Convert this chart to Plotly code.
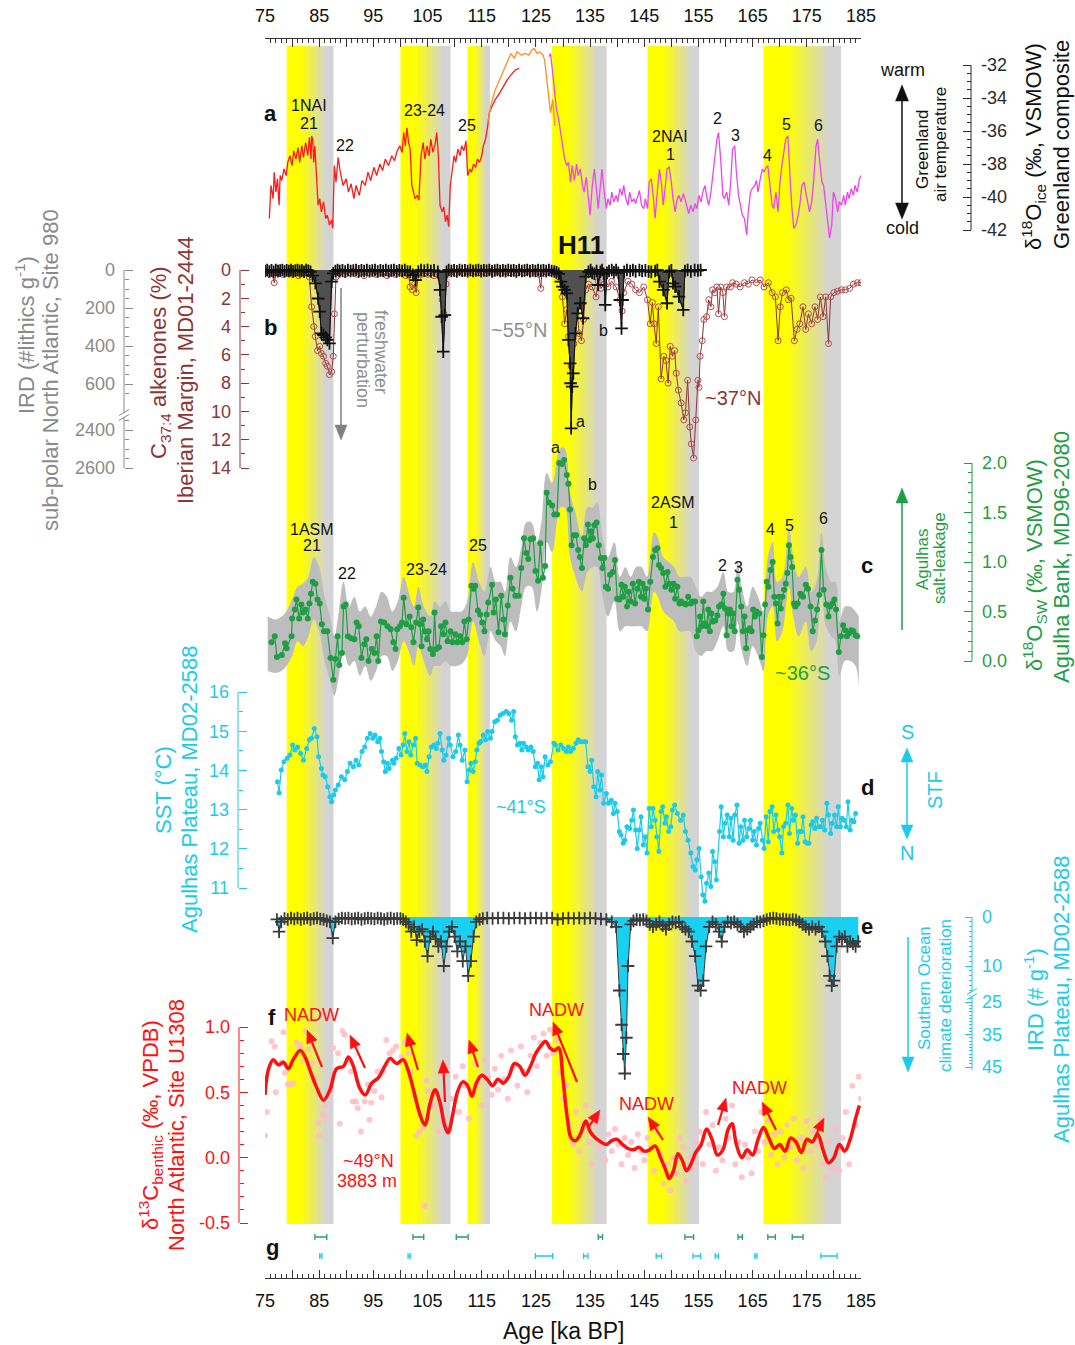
import math
import plotly.graph_objects as go

W, H = 1075, 1345
FONT = "Liberation Sans, Arial, sans-serif"

# ---------------- a: Greenland composite d18O_ice (permil) ----------------
greenland_ngrip = [
    (75.8, -41.3), (76.1, -39.3), (76.5, -40.1), (76.7, -38.5), (77.0, -39.7), (77.3, -38.9),
    (77.6, -40.5), (77.8, -38.7), (78.1, -39.0), (78.5, -38.3), (78.9, -38.7), (79.2, -37.9),
    (79.6, -37.5), (80.0, -38.1), (80.3, -37.2), (80.7, -37.7), (81.1, -37.0), (81.4, -37.9),
    (81.8, -36.9), (82.1, -37.6), (82.5, -36.7), (82.9, -37.5), (83.2, -36.4), (83.5, -37.7),
    (83.6, -36.3), (83.8, -36.5), (84.0, -37.9), (84.2, -36.9), (84.6, -39.3), (84.8, -40.5),
    (85.1, -40.1), (85.4, -40.9), (85.8, -40.3), (86.2, -41.3), (86.5, -41.1), (86.9, -41.7),
    (87.3, -41.4), (87.5, -41.9), (87.8, -38.1), (88.1, -39.1), (88.5, -37.6), (88.9, -38.5),
    (89.4, -39.3), (90.0, -38.9), (90.4, -39.7), (90.9, -39.2), (91.4, -40.1), (91.8, -39.3),
    (92.4, -39.9), (92.9, -39.0), (93.5, -39.3), (94.0, -38.5), (94.5, -39.0), (95.1, -38.2),
    (95.6, -38.7), (96.2, -38.0), (96.7, -38.4), (97.2, -37.7), (97.8, -38.1), (98.4, -37.5),
    (98.9, -37.8), (99.4, -37.2), (99.9, -36.9), (100.3, -37.3), (100.6, -36.1), (100.9, -36.9),
    (101.2, -35.8), (101.5, -36.7), (101.8, -37.1), (102.1, -39.3), (102.4, -39.7), (102.7, -40.1),
    (103.1, -39.9), (103.4, -40.2), (103.8, -37.5), (104.2, -36.7), (104.5, -37.7), (104.9, -36.9),
    (105.3, -37.5), (105.6, -36.5), (106.0, -37.3), (106.4, -36.8), (106.7, -36.1), (107.0, -37.5),
    (107.3, -40.5), (107.7, -40.9), (108.0, -40.6), (108.3, -41.5), (108.6, -41.1), (108.9, -41.8),
    (109.2, -39.3), (109.5, -38.5), (109.9, -37.5), (110.2, -37.9), (110.6, -37.1), (111.0, -37.5),
    (111.3, -36.9), (111.7, -37.2), (112.1, -36.6), (112.4, -38.7), (112.8, -38.3), (113.1, -38.5),
    (113.5, -38.0), (113.9, -38.2), (114.2, -37.7), (114.6, -37.9), (115.0, -37.5), (115.3, -36.9),
    (115.7, -36.5), (116.1, -35.7), (116.4, -34.9), (116.9, -34.5), (117.5, -34.1), (118.3, -33.7),
    (119.0, -33.3), (119.7, -32.9), (120.4, -32.6), (121.2, -32.3), (121.9, -32.2),
]
greenland_neem = [
    (116.1, -35.5), (116.8, -34.3), (117.5, -33.5), (118.3, -32.9), (119.0, -32.4), (119.7, -31.8),
    (120.4, -31.3), (121.0, -31.6), (121.5, -31.2), (122.3, -31.4), (123.0, -31.3), (123.7, -31.4),
    (124.2, -31.1), (124.7, -31.0), (125.2, -31.3), (125.7, -31.2), (126.3, -31.4), (126.6, -31.7),
    (127.0, -32.9), (127.4, -33.7), (127.7, -34.9), (128.1, -34.1), (128.5, -35.7),
]
greenland_synthetic = [
    (127.4, -31.5), (127.7, -31.3), (128.1, -32.5), (128.5, -33.9), (128.8, -34.7), (129.2, -35.3),
    (129.6, -36.1), (129.9, -36.9), (130.3, -37.7), (130.7, -38.1), (131.0, -37.9), (131.4, -39.1),
    (131.7, -38.1), (132.1, -39.0), (132.5, -38.0), (132.8, -38.7), (133.2, -38.3), (133.6, -39.3),
    (133.9, -39.7), (134.3, -38.8), (134.7, -40.1), (135.0, -41.1), (135.4, -39.3), (135.8, -38.3),
    (136.1, -39.3), (136.5, -40.7), (136.9, -39.3), (137.2, -38.3), (137.6, -39.7), (138.0, -40.7),
    (138.3, -40.1), (138.7, -40.5), (139.0, -39.7), (139.4, -40.3), (139.8, -39.9), (140.1, -40.3),
    (140.5, -39.5), (140.9, -39.9), (141.2, -39.3), (141.6, -40.1), (142.0, -40.5), (142.3, -39.7),
    (142.7, -40.3), (143.1, -40.1), (143.4, -40.4), (143.8, -39.9), (144.1, -39.6), (144.5, -40.5),
    (144.9, -40.7), (145.2, -40.1), (145.6, -40.7), (145.9, -39.1), (146.3, -38.9), (146.7, -40.1),
    (147.0, -41.3), (147.4, -39.7), (147.8, -38.3), (148.2, -39.3), (148.5, -40.5), (148.9, -39.3),
    (149.2, -38.3), (149.6, -38.2), (150.0, -39.1), (150.3, -40.1), (150.7, -40.9), (151.1, -40.1),
    (151.4, -39.9), (151.8, -40.3), (152.2, -39.8), (152.5, -40.1), (152.9, -40.7), (153.2, -41.0),
    (153.6, -40.5), (154.0, -40.9), (154.4, -40.4), (154.7, -40.7), (155.1, -39.9), (155.5, -40.3),
    (155.8, -39.7), (156.2, -39.3), (156.6, -40.1), (156.9, -40.5), (157.3, -39.7), (157.6, -38.9),
    (158.0, -37.7), (158.4, -36.5), (158.7, -36.1), (159.1, -37.7), (159.5, -39.9), (159.8, -40.1),
    (160.2, -39.7), (160.6, -40.5), (160.9, -39.3), (161.3, -37.1), (161.7, -36.9), (162.0, -38.5),
    (162.4, -39.9), (162.8, -40.5), (163.1, -41.1), (163.5, -41.3), (163.9, -42.3), (164.2, -40.9),
    (164.6, -39.7), (164.9, -39.5), (165.4, -39.3), (165.7, -39.0), (166.0, -39.7), (166.4, -38.9),
    (166.8, -38.3), (167.1, -38.5), (167.5, -38.2), (167.8, -38.1), (168.2, -39.3), (168.6, -40.5),
    (168.9, -40.7), (169.3, -39.7), (169.7, -40.9), (170.0, -39.3), (170.4, -38.1), (170.8, -37.3),
    (171.1, -36.5), (171.5, -36.3), (171.8, -38.1), (172.2, -40.5), (172.6, -41.9), (173.0, -41.7),
    (173.4, -41.1), (173.7, -40.5), (174.1, -39.3), (174.5, -39.1), (174.8, -39.7), (175.2, -40.5),
    (175.5, -40.9), (175.9, -40.3), (176.3, -38.9), (176.7, -36.9), (177.0, -36.5), (177.4, -37.9),
    (177.8, -39.1), (178.1, -39.3), (178.5, -40.5), (178.8, -41.3), (179.2, -42.5), (179.6, -41.7),
    (179.9, -39.7), (180.3, -40.1), (180.7, -40.9), (181.0, -40.3), (181.4, -40.5), (181.8, -39.9),
    (182.1, -40.5), (182.5, -39.7), (182.8, -40.1), (183.2, -39.5), (183.6, -39.9), (183.9, -39.3),
    (184.3, -39.7), (184.7, -38.9), (185.0, -38.7),
]

# ---------------- b: IRD Site 980 (#lithics/g) and C37:4 alkenones (%) ----------------
ird_site980 = [
    (75.0, 5), (75.4, 0), (75.8, 8), (76.2, 2), (76.6, 10), (77.0, 0), (77.4, 6), (77.8, 3),
    (78.2, 0), (78.6, 8), (79.0, 2), (79.4, 5), (79.8, 0), (80.2, 7), (80.6, 3), (81.0, 0),
    (81.4, 6), (81.8, 2), (82.2, 9), (82.6, 0), (83.0, 4), (83.4, 10), (83.8, 30), (84.3, 70),
    (84.8, 150), (85.1, 219), (85.4, 333), (85.8, 342), (86.2, 355), (86.5, 368), (86.9, 386),
    (87.3, 61), (87.6, 18), (88.0, 5), (88.4, 0), (88.8, 6), (89.3, 2), (89.8, 8), (90.3, 0),
    (90.8, 5), (91.3, 3), (91.8, 0), (92.3, 7), (92.8, 2), (93.3, 5), (93.8, 0), (94.3, 6),
    (94.8, 3), (95.3, 0), (95.8, 8), (96.3, 2), (96.8, 5), (97.3, 0), (97.8, 6), (98.3, 3),
    (98.8, 0), (99.3, 7), (99.8, 2), (100.3, 5), (100.8, 0), (101.3, 8), (101.8, 10), (102.3, 25),
    (102.8, 53), (103.3, 8), (103.8, 0), (104.4, 4), (105.0, 0), (105.6, 6), (106.2, 2), (106.9, 10),
    (107.3, 105), (107.6, 246), (107.9, 430), (108.2, 237), (108.5, 10), (108.9, 0), (109.4, 5),
    (109.9, 2), (110.4, 7), (110.9, 0), (111.4, 4), (111.9, 2), (112.4, 6), (112.9, 0), (113.4, 5),
    (113.9, 3), (114.4, 0), (114.9, 6), (115.4, 2), (115.9, 4), (116.4, 0), (116.9, 7), (117.4, 3),
    (117.9, 0), (118.4, 5), (118.9, 2), (119.4, 6), (119.9, 0), (120.4, 4), (120.9, 2), (121.4, 7),
    (121.9, 0), (122.4, 5), (122.9, 3), (123.4, 0), (123.9, 6), (124.4, 2), (124.9, 5), (125.4, 0),
    (125.9, 4), (126.4, 2), (126.9, 6), (127.4, 0), (127.9, 5), (128.4, 8), (128.8, 12), (129.2, 20),
    (129.6, 61), (129.9, 88), (130.3, 105), (130.7, 123), (131.0, 368), (131.3, 491), (131.4, 596),
    (131.5, 2391), (131.7, 614), (131.9, 544), (132.3, 333), (132.7, 228), (133.2, 175), (133.7, 254),
    (134.2, 35), (134.7, 10), (135.1, 0), (135.4, 15), (135.8, 20), (136.2, 5), (136.5, 79),
    (136.9, 10), (137.2, 0), (137.5, 20), (137.8, 184), (138.1, 15), (138.5, 5), (139.0, 0),
    (139.4, 12), (139.8, 0), (140.2, 15), (140.5, 158), (140.8, 307), (141.0, 158), (141.3, 10),
    (141.8, 0), (142.4, 5), (142.9, 0), (143.4, 8), (144.1, 0), (144.6, 5), (145.2, 2), (145.8, 8),
    (146.3, 10), (147.0, 5), (147.4, 0), (147.8, 61), (148.5, 105), (149.2, 175), (149.6, 10),
    (150.0, 2), (150.3, 70), (150.7, 88), (151.4, 140), (152.2, 210), (152.5, 5), (153.0, 0),
    (153.6, 8), (154.3, 0), (154.9, 3), (155.4, 0),
]
alkenones_md01 = [
    (75.2, 0.1), (75.8, 0.3), (76.3, 0.2), (76.7, 0.9), (77.1, 0.2), (77.6, 0.1), (78.2, 0.3),
    (78.8, 0.2), (79.4, 0.1), (80.0, 0.3), (80.6, 0.2), (81.2, 0.4), (81.8, 0.2), (82.5, 0.2),
    (83.2, 0.5), (83.6, 2.6), (84.0, 4.0), (84.3, 4.7), (84.7, 5.7), (85.1, 5.4), (85.4, 5.9),
    (85.8, 6.1), (86.2, 6.6), (86.5, 6.8), (86.9, 7.4), (87.3, 7.2), (87.6, 6.1), (87.8, 3.1),
    (88.1, 0.5), (88.6, 0.2), (89.1, 0.1), (89.8, 0.3), (90.5, 0.2), (91.2, 0.1), (91.9, 0.3),
    (92.6, 0.2), (93.3, 0.4), (94.0, 0.2), (94.7, 0.1), (95.4, 0.3), (96.1, 0.2), (96.8, 0.2),
    (97.5, 0.4), (98.2, 0.2), (98.9, 0.3), (99.6, 0.1), (100.3, 0.2), (101.0, 0.4), (101.5, 0.3),
    (101.8, 1.2), (102.2, 1.4), (102.6, 1.0), (102.9, 1.6), (103.3, 0.5), (103.8, 0.3), (104.4, 0.2),
    (105.0, 0.3), (105.6, 0.2), (106.2, 0.4), (106.8, 0.3), (107.3, 0.5), (107.7, 2.1), (108.0, 3.1),
    (108.4, 1.0), (108.8, 0.2), (109.5, 0.1), (110.2, 0.2), (110.9, 0.1), (111.6, 0.2), (112.3, 0.1),
    (113.0, 0.2), (113.7, 0.1), (114.4, 0.2), (115.1, 0.1), (115.8, 0.2), (116.5, 0.1), (117.2, 0.2),
    (117.9, 0.1), (118.6, 0.2), (119.3, 0.1), (120.0, 0.2), (120.7, 0.1), (121.4, 0.2), (122.1, 0.1),
    (122.8, 0.2), (123.5, 0.1), (124.2, 0.2), (124.9, 0.1), (125.5, 0.3), (125.9, 1.3), (126.1, 0.2),
    (126.8, 0.1), (127.5, 0.2), (128.0, 0.1), (128.5, 0.2), (129.2, 0.5), (129.9, 1.9), (130.3, 3.8),
    (130.7, 2.8), (131.0, 4.7), (131.5, 6.8), (132.0, 5.2), (132.5, 2.6), (133.0, 4.5), (133.4, 5.0),
    (133.8, 3.5), (134.2, 1.4), (134.7, 1.0), (135.4, 1.2), (136.1, 1.9), (136.5, 0.8), (137.0, 1.3),
    (137.6, 1.0), (138.3, 1.2), (139.0, 0.8), (139.8, 1.2), (140.5, 2.1), (140.9, 2.9), (141.2, 1.6),
    (142.0, 0.8), (142.7, 1.0), (143.4, 1.4), (144.1, 1.6), (144.9, 1.2), (145.6, 2.1), (146.1, 3.8),
    (146.5, 2.3), (146.8, 3.8), (147.2, 5.2), (147.6, 2.6), (148.1, 7.7), (148.6, 6.1), (149.0, 6.4),
    (149.4, 8.0), (149.8, 5.4), (150.2, 6.1), (150.6, 5.7), (150.9, 7.3), (151.3, 8.5), (151.8, 9.4),
    (152.3, 10.6), (152.6, 10.1), (153.0, 7.8), (153.4, 11.1), (153.7, 12.3), (154.1, 13.3),
    (154.5, 10.6), (154.9, 7.8), (155.1, 8.3), (155.3, 6.1), (155.7, 5.0), (156.0, 3.5), (156.5, 3.3),
    (156.9, 2.1), (157.3, 2.6), (157.6, 1.4), (158.0, 1.6), (158.4, 1.2), (158.7, 3.1), (159.1, 1.2),
    (159.5, 1.6), (159.8, 3.3), (160.2, 1.2), (160.9, 1.2), (161.3, 0.9), (162.0, 1.0), (162.7, 1.2),
    (163.5, 0.9), (164.2, 1.0), (164.9, 0.7), (165.7, 0.9), (166.4, 0.7), (167.1, 1.2), (167.9, 0.9),
    (168.6, 1.6), (169.2, 1.9), (169.7, 5.0), (170.1, 2.6), (170.5, 1.6), (171.2, 1.4), (171.6, 2.1),
    (172.1, 2.0), (172.7, 5.0), (173.2, 4.2), (173.7, 3.8), (174.3, 2.6), (174.8, 4.2), (175.3, 3.1),
    (175.9, 3.8), (176.5, 2.6), (177.0, 3.5), (177.5, 1.9), (178.0, 3.3), (178.5, 1.9), (179.0, 5.2),
    (179.4, 1.9), (180.0, 1.6), (180.7, 1.5), (181.4, 1.4), (182.1, 1.4), (182.9, 1.3), (183.6, 1.0),
    (184.3, 0.9), (185.0, 0.9),
]

# ---------------- c: d18O_sw Agulhas Bank MD96-2080 (permil) ----------------
d18osw_md96 = [
    (76.2, 0.19), (76.8, 0.25), (77.2, 0.04), (78.1, 0.06), (78.7, 0.18), (79.0, 0.13), (79.9, 0.25),
    (80.0, 0.43), (80.5, 0.52), (80.8, 0.62), (81.3, 0.43), (81.7, 0.57), (82.0, 0.49), (82.5, 0.52),
    (82.9, 0.43), (83.2, 0.58), (83.5, 0.68), (83.8, 0.80), (84.3, 0.78), (84.7, 0.62), (85.1, 0.58),
    (85.5, 0.37), (85.9, 0.30), (86.5, 0.30), (87.1, 0.03), (87.6, -0.19), (88.0, 0.02), (88.4, 0.25),
    (88.7, -0.04), (89.2, 0.08), (89.5, 0.55), (89.9, 0.57), (90.3, 0.25), (90.9, 0.23), (91.5, 0.22),
    (91.9, 0.39), (92.3, 0.35), (92.8, 0.03), (93.3, 0.17), (93.7, 0.22), (94.1, 0.00), (94.7, 0.12),
    (95.2, 0.08), (95.6, 0.25), (95.9, 0.00), (96.4, 0.40), (97.0, 0.39), (97.6, 0.35), (98.2, 0.32),
    (98.7, 0.19), (99.1, 0.12), (99.4, 0.32), (99.9, 0.35), (100.3, 0.39), (100.6, 0.64), (101.1, 0.37),
    (101.7, 0.45), (102.0, 0.34), (102.4, 0.19), (102.9, 0.39), (103.3, 0.54), (103.6, 0.37),
    (103.9, 0.15), (104.2, 0.42), (104.5, 0.30), (104.9, 0.22), (105.2, 0.30), (105.5, 0.12),
    (106.0, 0.07), (106.3, 0.49), (106.6, 0.12), (107.1, 0.14), (107.5, 0.35), (107.9, 0.27),
    (108.3, 0.39), (108.7, 0.20), (109.2, 0.30), (109.6, 0.19), (110.1, 0.27), (110.5, 0.19),
    (111.0, 0.25), (111.4, 0.19), (111.8, 0.40), (112.2, 0.22), (112.6, 0.42), (113.1, 0.76),
    (113.5, 0.73), (113.8, 0.76), (114.3, 0.51), (114.7, 0.47), (115.1, 0.39), (115.5, 0.30),
    (115.9, 0.47), (116.2, 0.59), (116.9, 0.77), (117.2, 0.49), (117.6, 0.62), (118.1, 0.29),
    (118.6, 0.66), (119.0, 0.42), (119.3, 0.27), (119.8, 0.56), (120.3, 0.84), (120.7, 0.73),
    (121.2, 0.66), (121.8, 0.66), (122.3, 0.94), (122.8, 1.24), (123.2, 1.09), (123.6, 1.03),
    (124.0, 1.23), (124.5, 1.24), (124.9, 0.91), (125.4, 0.81), (125.8, 1.19), (126.3, 0.84),
    (126.7, 0.96), (127.0, 1.70), (127.4, 1.60), (128.0, 1.57), (128.4, 1.48), (128.9, 1.48),
    (129.3, 2.00), (129.8, 1.99), (130.2, 2.03), (130.7, 1.88), (131.0, 1.79), (131.3, 1.53),
    (131.6, 1.17), (132.0, 1.27), (132.4, 1.27), (132.8, 1.12), (133.1, 1.05), (133.5, 0.94),
    (133.9, 1.24), (134.2, 1.17), (134.6, 1.38), (134.9, 1.22), (135.2, 1.31), (135.5, 1.24),
    (135.8, 1.37), (136.2, 1.40), (136.6, 1.17), (137.0, 1.04), (137.3, 0.94), (137.6, 1.04),
    (137.9, 0.75), (138.3, 0.73), (138.7, 0.87), (139.2, 0.90), (139.6, 1.02), (140.0, 0.63),
    (140.4, 0.62), (140.8, 0.77), (141.1, 0.65), (141.4, 0.75), (141.8, 0.55), (142.1, 0.70),
    (142.5, 0.60), (142.9, 0.78), (143.3, 0.58), (143.7, 0.73), (144.0, 0.80), (144.4, 0.65),
    (144.7, 0.78), (145.0, 0.63), (145.3, 0.73), (145.7, 0.52), (146.1, 0.80), (146.6, 1.05),
    (147.0, 1.12), (147.4, 1.14), (147.7, 0.97), (148.1, 0.94), (148.5, 0.89), (148.9, 0.75),
    (149.3, 0.90), (149.6, 0.78), (150.0, 0.72), (150.4, 0.78), (150.7, 0.63), (151.1, 0.75),
    (151.5, 0.58), (151.8, 0.60), (152.3, 0.58), (152.7, 0.57), (153.1, 0.65), (153.6, 0.58),
    (153.9, 0.60), (154.4, 0.60), (154.7, 0.25), (155.0, 0.31), (155.3, 0.45), (155.6, 0.35),
    (155.9, 0.60), (156.2, 0.38), (156.5, 0.35), (156.8, 0.52), (157.1, 0.30), (157.4, 0.48),
    (157.7, 0.40), (158.1, 0.41), (158.5, 0.46), (158.8, 0.55), (159.2, 0.57), (159.6, 0.68),
    (159.9, 0.53), (160.2, 0.26), (160.5, 0.48), (160.8, 0.52), (161.1, 0.35), (161.4, 0.48),
    (161.7, 0.30), (162.2, 0.82), (162.5, 0.72), (162.9, 0.55), (163.2, 0.30), (163.5, 0.45),
    (163.8, 0.13), (164.1, 0.31), (164.5, 0.33), (164.8, 0.30), (165.1, 0.52), (165.4, 0.45),
    (165.7, 0.50), (166.2, 0.48), (166.7, 0.04), (167.0, 0.26), (167.3, 0.57), (167.6, 0.80),
    (167.9, 0.75), (168.3, 0.92), (168.7, 1.00), (169.0, 0.65), (169.3, 0.58), (169.6, 0.38),
    (169.9, 0.65), (170.2, 0.53), (170.5, 0.65), (170.8, 0.72), (171.1, 0.78), (171.4, 0.89),
    (171.7, 1.17), (172.0, 1.05), (172.3, 0.95), (172.6, 0.58), (172.9, 0.55), (173.3, 0.58),
    (173.8, 0.68), (174.3, 0.65), (174.8, 0.77), (175.2, 0.73), (175.7, 0.55), (176.1, 0.30),
    (176.5, 0.41), (176.9, 0.52), (177.3, 0.67), (177.7, 1.12), (178.1, 0.72), (178.6, 0.57),
    (179.0, 0.45), (179.3, 0.55), (179.7, 0.58), (180.1, 0.62), (180.4, 0.52), (180.9, 0.09),
    (181.3, 0.25), (181.7, 0.36), (182.1, 0.31), (182.4, 0.25), (182.8, 0.28), (183.2, 0.31),
    (183.6, 0.30), (184.0, 0.26), (184.3, 0.25),
]
# uncertainty envelope of the d18O_sw record: (age, upper, lower)
d18osw_envelope = [
    (75.5, 0.45, -0.10), (77.0, 0.42, -0.12), (78.5, 0.47, -0.08), (80.0, 0.62, 0.05),
    (81.0, 0.75, 0.20), (82.0, 0.78, 0.15), (83.0, 0.85, 0.25), (84.0, 1.05, 0.42),
    (85.0, 0.95, 0.30), (86.0, 0.65, 0.00), (87.0, 0.45, -0.20), (87.8, 0.25, -0.35),
    (88.5, 0.45, -0.20), (89.5, 0.80, 0.10), (90.5, 0.55, -0.05), (91.5, 0.65, 0.00),
    (92.5, 0.50, -0.15), (93.5, 0.55, -0.05), (94.5, 0.45, -0.20), (95.5, 0.55, -0.10),
    (96.5, 0.70, 0.05), (97.5, 0.65, 0.05), (98.5, 0.50, -0.10), (99.5, 0.60, 0.00),
    (100.6, 0.85, 0.20), (101.5, 0.70, 0.10), (102.5, 0.55, -0.05), (103.3, 0.75, 0.15),
    (104.3, 0.55, 0.00), (105.5, 0.45, -0.15), (106.3, 0.60, -0.05), (107.3, 0.55, -0.05),
    (108.3, 0.60, 0.00), (109.3, 0.50, -0.05), (110.3, 0.50, -0.05), (111.3, 0.50, -0.03),
    (112.3, 0.60, 0.05), (113.4, 1.00, 0.40), (114.5, 0.80, 0.20), (115.5, 0.70, 0.05),
    (116.6, 0.95, 0.30), (117.6, 0.80, 0.20), (118.5, 0.80, 0.15), (119.3, 0.70, 0.05),
    (120.3, 1.05, 0.40), (121.3, 0.95, 0.30), (122.3, 1.15, 0.55), (123.2, 1.40, 0.75),
    (124.2, 1.40, 0.75), (125.2, 1.20, 0.50), (126.0, 1.40, 0.70), (127.0, 1.90, 1.20),
    (128.0, 1.80, 1.10), (129.5, 2.15, 1.55), (130.3, 2.15, 1.55), (131.3, 1.70, 1.05),
    (132.3, 1.50, 0.85), (133.5, 1.25, 0.70), (134.5, 1.55, 0.90), (135.5, 1.55, 0.95),
    (136.3, 1.60, 0.95), (137.3, 1.25, 0.65), (138.3, 1.05, 0.45), (139.5, 1.20, 0.60),
    (140.5, 0.85, 0.30), (141.5, 0.95, 0.35), (142.5, 0.85, 0.35), (143.5, 0.95, 0.35),
    (144.5, 0.95, 0.35), (145.5, 0.85, 0.30), (146.8, 1.30, 0.70), (147.5, 1.25, 0.65),
    (148.5, 1.05, 0.50), (149.5, 1.00, 0.45), (150.5, 0.95, 0.40), (151.5, 0.85, 0.30),
    (152.5, 0.85, 0.30), (153.5, 0.85, 0.30), (154.5, 0.75, 0.10), (155.5, 0.65, 0.05),
    (156.5, 0.70, 0.10), (157.5, 0.70, 0.10), (158.5, 0.75, 0.20), (159.6, 0.90, 0.35),
    (160.5, 0.70, 0.10), (161.5, 0.70, 0.10), (162.2, 1.00, 0.40), (163.0, 0.75, 0.10),
    (164.0, 0.55, -0.05), (165.0, 0.75, 0.15), (166.0, 0.65, 0.05), (167.0, 0.50, -0.10),
    (167.8, 1.05, 0.45), (168.7, 1.20, 0.55), (169.5, 0.80, 0.20), (170.5, 0.85, 0.30),
    (171.7, 1.35, 0.75), (172.5, 1.05, 0.45), (173.5, 0.85, 0.25), (174.8, 0.95, 0.40),
    (175.8, 0.70, 0.10), (176.8, 0.80, 0.20), (177.7, 1.30, 0.75), (178.5, 0.95, 0.35),
    (179.5, 0.80, 0.25), (180.3, 0.80, 0.20), (181.0, 0.40, -0.15), (182.0, 0.55, 0.00),
    (183.0, 0.55, 0.00), (184.0, 0.50, -0.05), (184.6, 0.45, -0.30),
]

# ---------------- d: SST Agulhas Plateau MD02-2588 (degC) ----------------
sst_md02 = [
    (77.3, 13.71), (77.6, 13.43), (78.0, 14.01), (78.5, 14.22), (79.1, 14.31), (79.6, 14.39),
    (80.1, 14.65), (80.5, 14.52), (81.0, 14.60), (81.6, 14.43), (82.1, 14.26), (82.7, 14.56),
    (83.2, 14.78), (83.6, 14.82), (84.1, 15.07), (84.6, 14.86), (84.9, 14.35), (85.4, 14.05),
    (85.7, 13.88), (86.1, 13.84), (86.6, 13.58), (87.0, 13.33), (87.3, 13.20), (87.7, 13.37),
    (88.0, 13.50), (88.5, 13.63), (89.1, 13.84), (89.7, 13.76), (90.2, 13.97), (90.7, 14.18),
    (91.3, 14.09), (91.8, 14.26), (92.3, 14.14), (92.9, 14.48), (93.4, 14.60), (93.9, 14.82),
    (94.4, 14.94), (94.9, 14.82), (95.3, 14.90), (95.8, 14.73), (96.2, 14.82), (96.5, 14.48),
    (96.9, 14.22), (97.2, 13.97), (97.6, 14.18), (97.9, 14.05), (98.5, 14.26), (98.8, 14.18),
    (99.2, 14.31), (99.7, 14.56), (100.1, 14.39), (100.5, 14.65), (100.8, 14.94), (101.2, 14.48),
    (101.6, 14.73), (101.9, 14.39), (102.4, 14.65), (102.8, 14.82), (103.1, 14.18), (103.6, 14.14),
    (104.1, 14.09), (104.6, 14.14), (104.9, 13.97), (105.3, 14.35), (105.7, 14.60), (106.2, 14.65),
    (106.6, 14.56), (106.9, 14.69), (107.3, 14.94), (107.7, 14.52), (108.0, 14.26), (108.4, 14.39),
    (108.9, 14.82), (109.2, 14.65), (109.7, 14.35), (110.2, 14.48), (110.7, 14.90), (111.0, 14.65),
    (111.4, 14.26), (111.9, 14.52), (112.3, 13.71), (112.7, 14.01), (113.0, 14.18), (113.4, 13.97),
    (113.8, 14.22), (114.1, 14.52), (114.5, 14.69), (114.8, 14.73), (115.3, 14.90), (115.7, 14.78),
    (116.1, 14.99), (116.6, 14.82), (116.9, 14.99), (117.4, 15.24), (117.9, 15.28), (118.4, 15.41),
    (118.9, 15.45), (119.5, 15.50), (120.0, 15.45), (120.5, 15.28), (120.9, 15.50), (121.2, 14.86),
    (121.6, 14.65), (122.0, 14.69), (122.4, 14.52), (122.7, 14.69), (123.2, 14.60), (123.6, 14.52),
    (124.1, 14.60), (124.5, 14.48), (124.9, 14.09), (125.3, 14.18), (125.6, 13.76), (126.0, 14.09),
    (126.3, 13.84), (126.7, 14.35), (127.2, 14.14), (127.7, 14.22), (128.3, 14.69), (128.6, 14.65),
    (129.1, 14.52), (129.6, 14.65), (130.1, 14.56), (130.6, 14.48), (131.0, 14.60), (131.4, 14.48),
    (131.9, 14.56), (132.4, 14.69), (132.8, 14.78), (133.3, 14.73), (133.8, 14.73), (134.2, 14.73),
    (134.6, 14.09), (135.0, 13.97), (135.3, 14.26), (135.7, 13.58), (136.1, 13.33), (136.4, 13.97),
    (136.8, 13.50), (137.1, 13.88), (137.5, 13.16), (138.0, 13.41), (138.4, 13.16), (138.9, 13.24),
    (139.3, 12.90), (139.6, 13.16), (140.0, 12.95), (140.4, 12.44), (140.7, 12.35), (141.1, 12.14),
    (141.4, 12.22), (141.8, 12.56), (142.3, 12.52), (142.7, 12.73), (143.0, 12.99), (143.4, 12.48),
    (143.7, 12.01), (144.1, 12.48), (144.4, 12.82), (144.8, 12.10), (145.2, 12.31), (145.5, 11.89),
    (145.9, 13.03), (146.3, 12.56), (146.6, 13.03), (147.0, 12.73), (147.3, 12.31), (147.7, 11.93),
    (148.1, 12.95), (148.4, 13.07), (148.8, 12.65), (149.1, 12.82), (149.5, 12.44), (149.9, 12.56),
    (150.2, 12.99), (150.6, 13.12), (151.1, 12.90), (151.7, 12.73), (152.2, 12.86), (152.6, 12.44),
    (153.1, 12.22), (153.6, 11.89), (154.0, 11.55), (154.4, 11.46), (154.7, 11.72), (155.1, 12.01),
    (155.5, 11.29), (155.8, 10.83), (156.2, 10.66), (156.5, 11.12), (156.9, 11.38), (157.3, 11.04),
    (157.6, 11.93), (158.0, 11.67), (158.3, 11.21), (158.9, 12.44), (159.2, 13.07), (159.6, 12.31),
    (159.9, 12.65), (160.3, 12.86), (160.7, 12.31), (161.0, 12.78), (161.4, 12.22), (161.7, 12.86),
    (162.1, 13.12), (162.5, 12.14), (162.8, 12.56), (163.2, 12.22), (163.5, 12.73), (163.9, 12.31),
    (164.3, 12.52), (164.6, 12.73), (165.0, 12.22), (165.3, 12.44), (165.7, 12.10), (166.1, 12.52),
    (166.4, 12.65), (166.8, 12.22), (167.1, 12.01), (167.5, 12.82), (167.9, 12.18), (168.2, 12.95),
    (168.6, 13.07), (168.9, 12.44), (169.3, 12.86), (169.7, 12.48), (170.0, 12.31), (170.4, 11.89),
    (170.7, 12.56), (171.1, 12.65), (171.5, 13.12), (171.8, 12.39), (172.2, 13.03), (172.5, 12.73),
    (172.9, 12.86), (173.3, 12.14), (173.6, 12.44), (174.0, 12.44), (174.3, 12.82), (174.7, 12.18),
    (175.1, 12.14), (175.4, 12.14), (175.8, 12.61), (176.1, 12.69), (176.5, 12.52), (176.8, 12.78),
    (177.2, 12.56), (177.6, 12.56), (177.9, 12.73), (178.3, 12.48), (178.7, 13.16), (179.0, 12.86),
    (179.4, 12.39), (179.7, 12.65), (180.1, 12.86), (180.5, 12.56), (180.8, 13.07), (181.2, 12.56),
    (181.5, 12.78), (181.9, 12.73), (182.3, 12.56), (182.6, 13.20), (183.0, 12.48), (183.3, 12.73),
    (183.7, 12.69), (184.0, 12.90),
]

# ---------------- e: IRD Agulhas Plateau MD02-2588 (#/g) ----------------
ird_md02 = [
    (77.2, 0.5), (77.6, 3.0), (78.0, 1.0), (78.6, 0.3), (79.2, 0.5), (79.8, 0.2), (80.4, 0.4),
    (81.0, 0.2), (81.6, 0.5), (82.2, 0.3), (82.8, 0.2), (83.4, 0.5), (84.0, 0.3), (84.6, 0.2),
    (85.2, 0.4), (85.8, 0.5), (86.4, 0.8), (87.0, 1.0), (87.5, 4.3), (88.0, 1.0), (88.6, 0.4),
    (89.2, 0.2), (89.8, 0.3), (90.4, 0.2), (91.0, 0.4), (91.6, 0.3), (92.2, 0.2), (92.8, 0.5),
    (93.4, 0.3), (94.0, 0.2), (94.6, 0.3), (95.2, 0.4), (95.8, 0.2), (96.4, 0.3), (97.0, 0.5),
    (97.6, 0.3), (98.2, 0.2), (98.8, 0.4), (99.4, 0.3), (100.0, 0.3), (100.5, 0.5), (101.0, 1.0),
    (101.5, 1.5), (102.0, 3.0), (102.5, 2.0), (103.0, 4.7), (103.5, 3.0), (104.0, 2.5), (104.5, 5.0),
    (105.0, 8.0), (105.5, 4.0), (106.0, 3.0), (106.5, 4.5), (107.0, 6.0), (107.5, 5.0), (108.0, 10.0),
    (108.5, 6.0), (109.0, 3.0), (109.5, 2.0), (110.0, 4.0), (110.5, 7.0), (111.0, 5.0), (111.5, 9.0),
    (112.0, 6.0), (112.5, 12.0), (113.0, 9.0), (113.5, 4.0), (114.0, 1.0), (114.6, 0.5), (115.2, 0.3),
    (116.0, 0.2), (117.0, 0.3), (118.0, 0.2), (119.0, 0.2), (120.0, 0.3), (121.0, 0.2), (122.0, 0.2),
    (123.0, 0.3), (124.0, 0.2), (125.0, 0.2), (126.0, 0.3), (127.0, 0.2), (128.0, 0.2), (129.0, 0.5),
    (130.0, 0.3), (131.0, 0.2), (132.0, 0.3), (133.0, 0.2), (134.0, 0.3), (135.0, 0.2), (136.0, 0.3),
    (137.0, 0.4), (138.0, 0.5), (139.0, 1.0), (139.8, 2.0), (140.4, 15.0), (140.8, 32.0), (141.1, 41.0),
    (141.4, 47.0), (141.7, 36.0), (142.0, 10.0), (142.5, 1.5), (143.0, 0.8), (143.6, 0.5), (144.2, 0.6),
    (144.8, 0.5), (145.4, 0.8), (146.0, 1.5), (146.6, 2.0), (147.2, 1.5), (147.8, 1.0), (148.4, 1.8),
    (149.0, 2.5), (149.6, 1.5), (150.2, 1.0), (150.8, 1.2), (151.4, 1.0), (152.0, 2.0), (152.6, 2.5),
    (153.2, 3.0), (153.8, 5.0), (154.4, 8.0), (154.9, 14.0), (155.4, 15.0), (155.9, 13.0), (156.4, 6.0),
    (157.0, 2.0), (157.6, 1.0), (158.2, 1.5), (158.8, 3.0), (159.3, 5.0), (159.8, 2.0), (160.4, 1.0),
    (161.0, 1.2), (161.6, 1.0), (162.2, 1.5), (162.8, 2.0), (163.4, 3.0), (164.0, 2.5), (164.6, 2.0),
    (165.2, 1.5), (165.8, 1.0), (166.4, 1.0), (167.0, 0.8), (167.6, 0.5), (168.2, 0.3), (168.8, 0.2),
    (169.4, 0.3), (170.0, 0.5), (170.6, 0.4), (171.2, 0.5), (171.8, 0.6), (172.4, 0.5), (173.0, 0.6),
    (173.6, 1.0), (174.2, 1.5), (174.8, 2.0), (175.4, 2.5), (176.0, 2.0), (176.6, 2.5), (177.2, 2.0),
    (177.8, 3.0), (178.4, 5.0), (178.8, 8.0), (179.2, 12.0), (179.6, 14.0), (180.0, 13.0), (180.5, 6.0),
    (181.0, 4.0), (181.5, 4.5), (182.0, 4.0), (182.5, 6.0), (183.0, 5.0), (183.5, 5.5), (184.0, 6.0),
    (184.5, 5.0),
]

# ---------------- f: d13C benthic Site U1308 (permil) ----------------
d13c_u1308_raw = [
    (75.0, 0.17), (75.3, 0.35), (76.2, 0.89), (76.8, 0.85), (77.0, 0.50), (78.1, 0.73), (78.4, 0.96),
    (78.7, 0.65), (79.2, 0.56), (79.6, 0.56), (80.2, 0.57), (80.8, 0.88), (81.2, 0.83), (81.6, 0.86),
    (82.1, 0.75), (82.5, 0.97), (83.0, 0.83), (83.7, 0.72), (84.3, 0.60), (84.9, 0.27), (85.0, 0.17),
    (85.6, 0.33), (86.1, 0.40), (86.3, 0.30), (87.0, 0.58), (87.2, 0.53), (87.6, 0.84), (88.5, 0.80),
    (88.8, 0.26), (89.3, 0.97), (89.7, 0.94), (90.3, 0.75), (90.9, 0.66), (91.2, 0.43), (91.8, 0.43),
    (92.1, 0.38), (92.7, 0.20), (93.4, 0.43), (94.0, 0.56), (94.3, 0.29), (94.6, 0.42), (95.2, 0.51),
    (95.8, 0.66), (96.5, 0.46), (96.8, 0.66), (97.4, 0.90), (98.0, 0.80), (98.6, 0.82), (99.2, 0.85),
    (100.2, 0.77), (100.8, 0.88), (101.4, 0.80), (102.0, 0.66), (102.6, 0.48), (102.9, 0.17),
    (103.5, 0.20), (104.2, 0.23), (104.5, -0.37), (104.8, 0.59), (105.1, 0.51), (105.7, 0.40),
    (106.3, 0.40), (107.0, 0.20), (107.6, 0.71), (108.2, 0.27), (109.5, 0.45), (110.2, 0.62),
    (110.8, 0.35), (111.5, 0.70), (112.0, 0.55), (112.6, 0.30), (113.2, 0.48), (113.8, 0.72),
    (114.5, 0.58), (115.0, 0.40), (115.6, 0.75), (116.2, 0.62), (116.8, 0.48), (117.4, 0.68),
    (118.0, 0.52), (118.6, 0.78), (119.2, 0.60), (119.8, 0.45), (120.4, 0.82), (121.0, 0.70),
    (121.6, 0.55), (122.2, 0.85), (122.8, 0.66), (123.4, 0.50), (124.0, 0.78), (124.6, 0.92),
    (125.2, 0.70), (125.8, 0.88), (126.4, 0.95), (127.0, 0.78), (127.6, 0.98), (128.2, 0.80),
    (128.8, 0.90), (129.4, 0.65), (130.0, 0.45), (130.6, 0.55), (131.2, 0.25), (131.8, 0.10),
    (132.4, 0.35), (133.0, 0.05), (133.6, 0.22), (134.2, 0.40), (134.8, 0.12), (135.4, -0.05),
    (136.0, 0.25), (136.6, 0.08), (137.2, 0.30), (137.8, -0.02), (138.4, 0.18), (139.0, 0.05),
    (139.6, 0.22), (140.2, 0.10), (140.8, -0.05), (141.4, 0.15), (142.0, 0.02), (142.6, 0.12),
    (143.2, -0.08), (143.8, 0.18), (144.4, 0.05), (145.0, -0.02), (145.6, 0.15), (146.2, 0.08),
    (146.8, -0.10), (147.4, 0.20), (148.0, 0.02), (148.6, -0.20), (149.2, -0.05), (149.8, -0.25),
    (150.4, 0.00), (151.0, -0.12), (151.6, 0.15), (152.2, 0.08), (152.8, -0.18), (153.4, 0.00),
    (154.0, -0.08), (154.6, 0.12), (155.2, 0.20), (155.8, -0.05), (156.4, 0.35), (157.0, 0.10),
    (157.6, 0.25), (158.2, -0.10), (158.8, 0.08), (159.4, -0.02), (160.0, 0.30), (160.6, 0.15),
    (161.2, 0.40), (161.8, -0.05), (162.4, 0.12), (163.0, -0.15), (163.6, 0.10), (164.2, 0.00),
    (164.8, -0.12), (165.4, 0.20), (166.0, 0.05), (166.6, 0.35), (167.2, 0.12), (167.8, 0.28),
    (168.4, 0.02), (169.0, 0.18), (169.6, -0.05), (170.2, 0.20), (170.8, 0.00), (171.4, 0.25),
    (172.0, 0.08), (172.6, 0.30), (173.2, -0.02), (173.8, 0.15), (174.4, -0.08), (175.0, 0.28),
    (175.6, 0.05), (176.2, 0.20), (176.8, 0.10), (177.4, 0.30), (178.0, -0.05), (178.6, -0.15),
    (179.2, 0.12), (179.8, -0.08), (180.4, 0.22), (181.0, -0.10), (181.6, 0.15), (182.2, 0.35),
    (182.8, -0.05), (183.4, 0.55), (184.0, 0.25), (184.6, 0.62), (185.0, 0.45),
]
d13c_u1308_smooth = [
    (75.0, 0.48), (75.6, 0.67), (76.5, 0.75), (77.5, 0.71), (78.4, 0.73), (79.3, 0.68), (80.2, 0.75),
    (81.5, 0.82), (82.4, 0.77), (83.3, 0.67), (84.5, 0.54), (85.8, 0.44), (87.0, 0.52), (88.2, 0.68),
    (89.5, 0.70), (90.4, 0.77), (91.3, 0.70), (92.5, 0.53), (93.5, 0.48), (94.7, 0.57), (95.9, 0.61),
    (97.1, 0.70), (98.1, 0.76), (99.3, 0.72), (100.5, 0.75), (101.4, 0.67), (102.4, 0.52), (103.6, 0.33),
    (104.5, 0.25), (105.5, 0.42), (106.4, 0.52), (107.3, 0.42), (108.2, 0.24), (108.8, 0.19),
    (109.6, 0.32), (110.5, 0.50), (111.5, 0.58), (112.4, 0.55), (113.2, 0.47), (114.0, 0.57),
    (115.0, 0.63), (116.0, 0.60), (117.0, 0.55), (118.0, 0.60), (119.0, 0.57), (120.0, 0.62),
    (121.0, 0.72), (122.0, 0.70), (123.0, 0.63), (124.0, 0.70), (125.0, 0.80), (126.0, 0.86),
    (126.8, 0.89), (127.6, 0.84), (128.4, 0.82), (129.2, 0.84), (130.0, 0.60), (130.8, 0.30),
    (131.5, 0.15), (132.3, 0.13), (133.2, 0.18), (134.2, 0.28), (135.0, 0.20), (136.0, 0.15),
    (137.0, 0.12), (138.0, 0.10), (139.0, 0.13), (140.0, 0.14), (141.0, 0.10), (142.0, 0.07),
    (143.0, 0.06), (144.0, 0.08), (145.0, 0.05), (146.0, 0.06), (147.0, 0.09), (148.0, 0.00),
    (149.0, -0.10), (149.6, -0.16), (150.4, -0.10), (151.2, 0.03), (152.0, -0.02), (152.8, -0.10),
    (153.6, -0.05), (154.5, 0.04), (155.5, 0.10), (156.5, 0.22), (157.5, 0.14), (158.5, 0.02),
    (159.5, 0.06), (160.5, 0.22), (161.2, 0.26), (162.0, 0.10), (163.0, 0.00), (164.0, 0.06),
    (165.0, 0.02), (166.0, 0.14), (167.0, 0.23), (168.0, 0.15), (169.0, 0.07), (170.0, 0.10),
    (171.0, 0.05), (172.0, 0.15), (173.0, 0.12), (174.0, 0.04), (175.0, 0.14), (176.0, 0.12),
    (177.0, 0.18), (178.0, 0.06), (179.0, -0.04), (180.0, 0.00), (181.0, 0.10), (182.0, 0.05),
    (183.0, 0.14), (184.0, 0.30), (184.7, 0.40),
]

# ---------------- g: tie-point age uncertainties (center, half-width, ka) ----------------
tiepoints_u1308 = [(85.3, 1.1), (103.3, 1.0), (111.4, 1.1), (136.9, 0.4), (153.3, 0.8),
                   (162.7, 0.4), (168.5, 0.7), (173.3, 1.0)]
tiepoints_md02 = [(85.3, 0.2), (101.6, 0.2), (126.5, 1.6), (134.2, 0.4), (147.7, 0.5),
                  (154.7, 0.7), (158.4, 0.3), (165.6, 0.2), (179.1, 1.5)]

# interstadial / warm intervals (start, end ka)
intervals = [(79.0, 87.6), (100.0, 109.2), (112.4, 116.5), (128.0, 138.0), (145.6, 155.1), (167.0, 181.3)]

age_labels = list(range(75, 186, 10))
age_mid_ticks = list(range(80, 185, 10))


# ---------------- helpers ----------------
def xp(px):
    return px / W


def yp(py):
    return 1 - py / H


def lin(v1, p1, v2, p2, top, bot):
    k = (v2 - v1) / (p2 - p1)
    return dict(domain=[yp(bot), yp(top)], range=[v1 + (bot - p1) * k, v1 + (top - p1) * k])


def unzip(pairs):
    return [p[0] for p in pairs], [p[1] for p in pairs]


def ird980_scale(v):
    # broken axis: 0-700 linear, then 2300+ shifted up under the break
    return v if v <= 1000 else v - 1558


def ird02_scale(v):
    # broken axis in pixel-like units: 0-16 at 4.9/unit, 25-45 at 3.25/unit
    return 4.9 * v if v <= 17 else 85 + 3.25 * (v - 25)


def yax(color, pos, side, geom, tickvals, ticktext, minor_vals, big=8, small=4):
    d = dict(anchor="free", position=pos, side=side, showline=False, showgrid=False,
             zeroline=False, ticks="inside", ticklen=big, tickwidth=1, tickcolor=color,
             tickmode="array", tickvals=tickvals, ticktext=ticktext, automargin=False,
             ticklabelstandoff=9,
             tickfont=dict(family=FONT, size=18, color=color),
             minor=dict(tickmode="array", tickvals=minor_vals, ticks="inside", ticklen=small,
                        tickcolor=color, tickwidth=1, showgrid=False),
             fixedrange=True)
    d.update(geom)
    return d


C_A = "#2b2b2b"
C_IRD = "#8a8a8a"
C_ALK = "#8c3535"
C_GREEN = "#1f9e44"
C_CYAN = "#1ccbea"
C_RED = "#ff1010"

fig = go.Figure()

# ---- a ----
x, y = unzip(greenland_ngrip)
fig.add_trace(go.Scatter(x=x, y=y, mode="lines", line=dict(color="#ff1a1a", width=1.3), yaxis="y"))
x, y = unzip(greenland_neem)
fig.add_trace(go.Scatter(x=x, y=y, mode="lines", line=dict(color="#ff8c28", width=1.3), yaxis="y"))
x, y = unzip(greenland_synthetic)
fig.add_trace(go.Scatter(x=x, y=y, mode="lines", line=dict(color="#ee44ee", width=1.3), yaxis="y"))

# ---- b ----
x, y = unzip(ird_site980)
yu = [ird980_scale(v) for v in y]
fig.add_trace(go.Scatter(x=x, y=yu, mode="lines", fill="tozeroy", fillcolor="#505050",
                         line=dict(color="#111111", width=0.8), yaxis="y3"))
xa, ya = unzip(alkenones_md01)
fig.add_trace(go.Scatter(x=xa, y=ya, mode="lines+markers", line=dict(color=C_ALK, width=1),
                         marker=dict(symbol="circle-open", size=6, color="#b24c4c", line=dict(width=1)),
                         yaxis="y2"))
fig.add_trace(go.Scatter(x=x, y=yu, mode="lines+markers", line=dict(color="#111111", width=1),
                         marker=dict(symbol="cross-thin", size=9, line=dict(width=1.8, color="#111111")),
                         yaxis="y3"))

# ---- c ----
ea = [p[0] for p in d18osw_envelope]
eh = [p[1] for p in d18osw_envelope]
el = [p[2] for p in d18osw_envelope]
fig.add_trace(go.Scatter(x=ea, y=eh, mode="lines", line=dict(width=0, color="#bdbdbd", shape="spline"),
                         yaxis="y4"))
fig.add_trace(go.Scatter(x=ea, y=el, mode="lines", line=dict(width=0, color="#bdbdbd", shape="spline"),
                         fill="tonexty", fillcolor="#bdbdbd", yaxis="y4"))
x, y = unzip(d18osw_md96)
fig.add_trace(go.Scatter(x=x, y=y, mode="lines+markers", line=dict(color=C_GREEN, width=1.2),
                         marker=dict(size=6, color=C_GREEN), yaxis="y4"))

# ---- d ----
x, y = unzip(sst_md02)
fig.add_trace(go.Scatter(x=x, y=y, mode="lines+markers", line=dict(color=C_CYAN, width=1.2),
                         marker=dict(size=5, color=C_CYAN), yaxis="y5"))

# ---- e ----
x, y = unzip(ird_md02)
yu = [ird02_scale(v) for v in y]
fig.add_trace(go.Scatter(x=x, y=yu, mode="lines", fill="tozeroy", fillcolor="#18d0f2",
                         line=dict(color="#3a3a3a", width=1), yaxis="y6"))
fig.add_trace(go.Scatter(x=x, y=yu, mode="markers",
                         marker=dict(symbol="cross-thin", size=9, line=dict(width=1.8, color="#3a3a3a")),
                         yaxis="y6"))

# ---- f ----
x, y = unzip(d13c_u1308_raw)
fig.add_trace(go.Scatter(x=x, y=y, mode="markers", marker=dict(size=6, color="#ffbcc4", opacity=0.85),
                         yaxis="y7"))
x, y = unzip(d13c_u1308_smooth)
fig.add_trace(go.Scatter(x=x, y=y, mode="lines", line=dict(color=C_RED, width=3.5, shape="spline"),
                         yaxis="y7"))

# ---- g ----
x, y = unzip(tiepoints_u1308)
fig.add_trace(go.Scatter(x=x, y=[1] * len(x), mode="markers", marker=dict(size=1, color="#2a9d6a"),
                         error_x=dict(type="data", array=y, color="#2a9d6a", thickness=1.3, width=3),
                         yaxis="y8"))
x, y = unzip(tiepoints_md02)
fig.add_trace(go.Scatter(x=x, y=[0] * len(x), mode="markers", marker=dict(size=1, color=C_CYAN),
                         error_x=dict(type="data", array=y, color=C_CYAN, thickness=1.3, width=3),
                         yaxis="y8"))

# carriers for the extra age axes (top labels, unlabelled mid ticks)
for xa_name in ("x2", "x3", "x4"):
    fig.add_trace(go.Scatter(x=[80, 81], y=[None, None], mode="lines", xaxis=xa_name, yaxis="y8"))

# ---------------- shading of the intervals (yellow -> grey) ----------------
shapes = []
NS = 30
for a, b in intervals:
    step = (b - a) / NS
    for i in range(NS):
        f = (i + 0.5) / NS
        t = min(max((f - 0.3) / 0.55, 0.0), 1.0)
        r = round(255 * (1 - t) + 212 * t)
        g = round(255 * (1 - t) + 212 * t)
        bl = round(0 * (1 - t) + 212 * t)
        x0 = a + step * i
        x1 = min(a + step * (i + 2), b)
        shapes.append(dict(type="rect", xref="x", yref="paper", x0=x0, x1=x1,
                           y0=yp(1224), y1=yp(46), fillcolor=f"rgb({r},{g},{bl})",
                           line=dict(width=0), layer="below"))

# axis lines drawn over their labelled span
axis_lines = [
    (971, 65, 230, C_A), (124, 270, 468, C_IRD), (240, 270, 468, C_ALK),
    (972, 463, 661, C_GREEN), (238, 692, 888, C_CYAN), (972, 917, 1070, C_CYAN),
    (239, 1027, 1223, C_RED),
]
for px, t, b, c in axis_lines:
    shapes.append(dict(type="line", xref="paper", yref="paper", x0=xp(px), x1=xp(px),
                       y0=yp(t), y1=yp(b), line=dict(color=c, width=1)))

# axis breaks
for px, py, c in [(124, 415, C_IRD), (972, 994, C_CYAN)]:
    shapes.append(dict(type="rect", xref="paper", yref="paper", x0=xp(px - 2), x1=xp(px + 2),
                       y0=yp(py + 2), y1=yp(py - 2), fillcolor="white", line=dict(width=0)))
    for dy in (-2.5, 2.5):
        shapes.append(dict(type="line", xref="paper", yref="paper", x0=xp(px - 5), x1=xp(px + 5),
                           y0=yp(py + dy + 3), y1=yp(py + dy - 3), line=dict(color=c, width=1)))


# ---------------- arrows (shaft + triangular head, pixel geometry) ----------------
def arrow(hx, hy, tx, ty, color, width=2.0, hl=12.0, hw=10.0, both=False):
    dx, dy = hx - tx, hy - ty
    n = math.hypot(dx, dy)
    ux, uy = dx / n, dy / n
    px_, py_ = -uy, ux
    ends = [(hx, hy, ux, uy)]
    if both:
        ends.append((tx, ty, -ux, -uy))
    sx0, sy0, sx1, sy1 = tx, ty, hx - ux * hl * 0.8, hy - uy * hl * 0.8
    if both:
        sx0, sy0 = tx + ux * hl * 0.8, ty + uy * hl * 0.8
    shapes.append(dict(type="line", xref="paper", yref="paper", x0=xp(sx0), y0=yp(sy0),
                       x1=xp(sx1), y1=yp(sy1), line=dict(color=color, width=width)))
    for ex, ey, vx, vy in ends:
        bx, by = ex - vx * hl, ey - vy * hl
        pts = [(ex, ey), (bx + px_ * hw / 2, by + py_ * hw / 2), (bx - px_ * hw / 2, by - py_ * hw / 2)]
        path = "M {} {} L {} {} L {} {} Z".format(*[c for p in pts for c in (xp(p[0]), yp(p[1]))])
        shapes.append(dict(type="path", xref="paper", yref="paper", path=path,
                           fillcolor=color, line=dict(color=color, width=0.5)))


arrow(902, 85, 902, 219, "#111111", width=1.5, hl=16, hw=13, both=True)
arrow(341, 440, 341, 288, "#808080", width=1.5, hl=15, hw=12)
arrow(902, 488, 902, 630, C_GREEN, width=1.5, hl=15, hw=12)
arrow(907, 748, 907, 839, C_CYAN, width=1.5, hl=14, hw=12, both=True)
arrow(908, 1072, 908, 937, C_CYAN, width=1.5, hl=15, hw=12)
for hx, hy, tx, ty in [(307, 1030, 322, 1067), (350, 1035, 365, 1068), (407, 1033, 418, 1070),
                       (443, 1060, 445, 1102), (469, 1040, 478, 1067), (553, 1022, 577, 1082),
                       (600, 1110, 588, 1128), (648, 1117, 663, 1140), (726, 1098, 718, 1125),
                       (762, 1102, 776, 1130), (824, 1118, 815, 1137)]:
    arrow(hx, hy, tx, ty, C_RED, width=2.2, hl=13, hw=11)

# ---------------- annotations ----------------
ann = []


def T(text, px, py, size=16, color="#111111", bold=False, angle=0, xanchor="center"):
    if bold:
        text = f"<b>{text}</b>"
    ann.append(dict(text=text, x=xp(px), y=yp(py), xref="paper", yref="paper", showarrow=False,
                    xanchor=xanchor, yanchor="middle", textangle=angle,
                    font=dict(family=FONT, size=size, color=color)))


# panel letters
for letter, px, py in [("a", 270, 113), ("b", 270, 328), ("c", 867, 565), ("d", 867, 788),
                       ("e", 867, 926), ("f", 272, 1017), ("g", 272, 1247)]:
    T(letter, px, py, size=22, bold=True)

# a: events
for txt, px, py in [("1NAI", 309, 105), ("21", 309, 124), ("22", 345, 145), ("23-24", 424, 111),
                    ("25", 467, 126), ("2NAI", 670, 136), ("1", 670, 154), ("2", 717, 118),
                    ("3", 735, 135), ("4", 767, 156), ("5", 786, 125), ("6", 818, 126)]:
    T(txt, px, py, size=16)
T("warm", 902, 70, size=18)
T("cold", 902, 228, size=18)
T("Greenland", 922, 150, size=17, angle=-90)
T("air temperature", 940, 145, size=17, angle=-90)
T("δ<sup>18</sup>O<sub>ice</sub> (‰, VSMOW)", 1034, 147, size=22, angle=-90)
T("Greenland composite", 1061, 145, size=22, angle=-90)

# b
T("H11", 581, 245, size=26, bold=True)
T("~55°N", 519, 330, size=20, color="#8f8f8f")
T("b", 603, 330, size=16)
T("a", 580, 422, size=16)
T("~37°N", 733, 398, size=20, color=C_ALK)
T("freshwater", 381, 352, size=18, color="#8f8f8f", angle=90)
T("perturbation", 363, 360, size=18, color="#8f8f8f", angle=90)
T("IRD (#lithics g<sup>-1</sup>)", 25, 335, size=22, color=C_IRD, angle=-90)
T("sub-polar North Atlantic, Site 980", 50, 370, size=22, color=C_IRD, angle=-90)
T("C<sub>37:4</sub> alkenones (%)", 160, 363, size=22, color=C_ALK, angle=-90)
T("Iberian Margin, MD01-2444", 185, 370, size=22, color=C_ALK, angle=-90)

# c
for txt, px, py in [("a", 555, 447), ("b", 592, 485), ("1ASM", 312, 529), ("21", 312, 545),
                    ("22", 347, 573), ("23-24", 426, 569), ("25", 478, 545), ("2ASM", 673, 503),
                    ("1", 673, 522), ("2", 722, 565), ("3", 738, 567), ("4", 770, 530),
                    ("5", 789, 525), ("6", 823, 518)]:
    T(txt, px, py, size=16)
T("~36°S", 802, 673, size=20, color=C_GREEN)
T("Agulhas", 922, 560, size=17, color=C_GREEN, angle=-90)
T("salt-leakage", 939, 558, size=17, color=C_GREEN, angle=-90)
T("δ<sup>18</sup>O<sub>SW</sub> (‰, VSMOW)", 1034, 565, size=22, color=C_GREEN, angle=-90)
T("Agulha Bank, MD96-2080", 1062, 557, size=22, color=C_GREEN, angle=-90)

# d
T("~41°S", 521, 807, size=18, color=C_CYAN)
T("S", 907, 732, size=20, color=C_CYAN)
T("N", 907, 853, size=20, color=C_CYAN)
T("STF", 935, 790, size=20, color=C_CYAN, angle=-90)
T("SST (°C)", 163, 790, size=22, color=C_CYAN, angle=-90)
T("Agulhas Plateau, MD02-2588", 189, 790, size=22, color=C_CYAN, angle=-90)

# e
T("Southern Ocean", 924, 988, size=17, color=C_CYAN, angle=-90)
T("climate deterioration", 945, 996, size=17, color=C_CYAN, angle=-90)
T("IRD (# g<sup>-1</sup>)", 1034, 1000, size=22, color=C_CYAN, angle=-90)
T("Agulhas Plateau, MD02-2588", 1062, 1000, size=22, color=C_CYAN, angle=-90)

# f
for px, py in [(311, 1015), (556, 1010), (646, 1104), (759, 1088)]:
    T("NADW", px, py, size=18, color=C_RED)
T("~49°N", 368, 1161, size=18, color=C_RED)
T("3883 m", 367, 1181, size=18, color=C_RED)
T("δ<sup>13</sup>C<sub>benthic</sub> (‰, VPDB)", 150, 1125, size=22, color=C_RED, angle=-90)
T("North Atlantic, Site U1308", 176, 1125, size=22, color=C_RED, angle=-90)

T("Age [ka BP]", 563, 1331, size=23)

# ---------------- axes ----------------
xcommon = dict(range=[75, 185], domain=[xp(265), xp(861)], showgrid=False, zeroline=False,
               showline=True, linecolor="#333333", linewidth=1, ticks="inside", ticklen=8,
               tickcolor="#333333", tickmode="array", tickvals=age_labels,
               ticktext=[str(v) for v in age_labels],
               tickfont=dict(family=FONT, size=18, color="#111111"),
               minor=dict(dtick=1, tick0=75, ticks="inside", ticklen=4, tickcolor="#333333"),
               fixedrange=True, anchor="free", automargin=False)
xmid = dict(range=[75, 185], domain=[xp(265), xp(861)], showgrid=False, zeroline=False,
            showline=False, ticks="inside", ticklen=8, tickcolor="#333333", tickmode="array",
            tickvals=age_mid_ticks, showticklabels=False, fixedrange=True, anchor="free",
            automargin=False, overlaying="x")

ird_b_major = [0, 200, 400, 600, 2400, 2600]
ird_b_minor = [50, 100, 150, 250, 300, 350, 450, 500, 550, 650, 2350, 2450, 2500, 2550]
ird_e_major = [0, 10, 25, 35, 45]
ird_e_minor = [v for v in range(1, 16) if v != 10] + [v for v in range(22, 45) if v not in (25, 35)]

fig.update_layout(
    width=W, height=H, autosize=False,
    margin=dict(l=0, r=0, t=0, b=0, pad=0, autoexpand=False),
    paper_bgcolor="white", plot_bgcolor="rgba(0,0,0,0)", showlegend=False, hovermode=False,
    font=dict(family=FONT),
    xaxis=dict(xcommon, side="bottom", position=yp(1278), ticklabelstandoff=6),
    xaxis2=dict(xcommon, side="top", position=yp(38), overlaying="x", ticklabelstandoff=9),
    xaxis3=dict(xmid, side="bottom", position=yp(1278)),
    xaxis4=dict(xmid, side="top", position=yp(38)),
    yaxis=yax(C_A, xp(971), "right", lin(-32, 65, -42, 230, 40, 245),
              [-42, -40, -38, -36, -34, -32], ["-42", "-40", "-38", "-36", "-34", "-32"],
              [-42 + 0.5 * i for i in range(21) if i % 4]),
    yaxis2=yax(C_ALK, xp(240), "left", lin(0, 270, 14, 468, 255, 485),
               list(range(0, 15, 2)), [str(v) for v in range(0, 15, 2)], list(range(1, 14, 2))),
    yaxis3=yax(C_IRD, xp(124), "left", lin(0, 270, 1042, 468, 255, 485),
               [ird980_scale(v) for v in ird_b_major], [str(v) for v in ird_b_major],
               [ird980_scale(v) for v in ird_b_minor]),
    yaxis4=yax(C_GREEN, xp(972), "right", lin(0, 661, 2, 463, 440, 705),
               [0, 0.5, 1, 1.5, 2], ["0.0", "0.5", "1.0", "1.5", "2.0"],
               [round(0.1 * i, 1) for i in range(21) if i % 5]),
    yaxis5=yax(C_CYAN, xp(238), "left", lin(16, 692, 11, 888, 680, 912),
               list(range(11, 17)), [str(v) for v in range(11, 17)],
               [11.5, 12.5, 13.5, 14.5, 15.5]),
    yaxis6=yax(C_CYAN, xp(972), "right", lin(0, 917, 150, 1067, 905, 1085),
               [ird02_scale(v) for v in ird_e_major], [str(v) for v in ird_e_major],
               [ird02_scale(v) for v in ird_e_minor], big=7, small=3),
    yaxis7=yax(C_RED, xp(239), "left", lin(1.0, 1027, -0.5, 1223, 1005, 1250),
               [-0.5, 0, 0.5, 1.0], ["-0.5", "0.0", "0.5", "1.0"],
               [round(-0.5 + 0.1 * i, 1) for i in range(16) if i % 5]),
    yaxis8=dict(lin(1, 1237, 0, 1256, 1226, 1268), anchor="free", position=xp(265), visible=False,
                fixedrange=True, automargin=False),
    shapes=shapes,
    annotations=ann,
)

fig.write_html("out.html")
